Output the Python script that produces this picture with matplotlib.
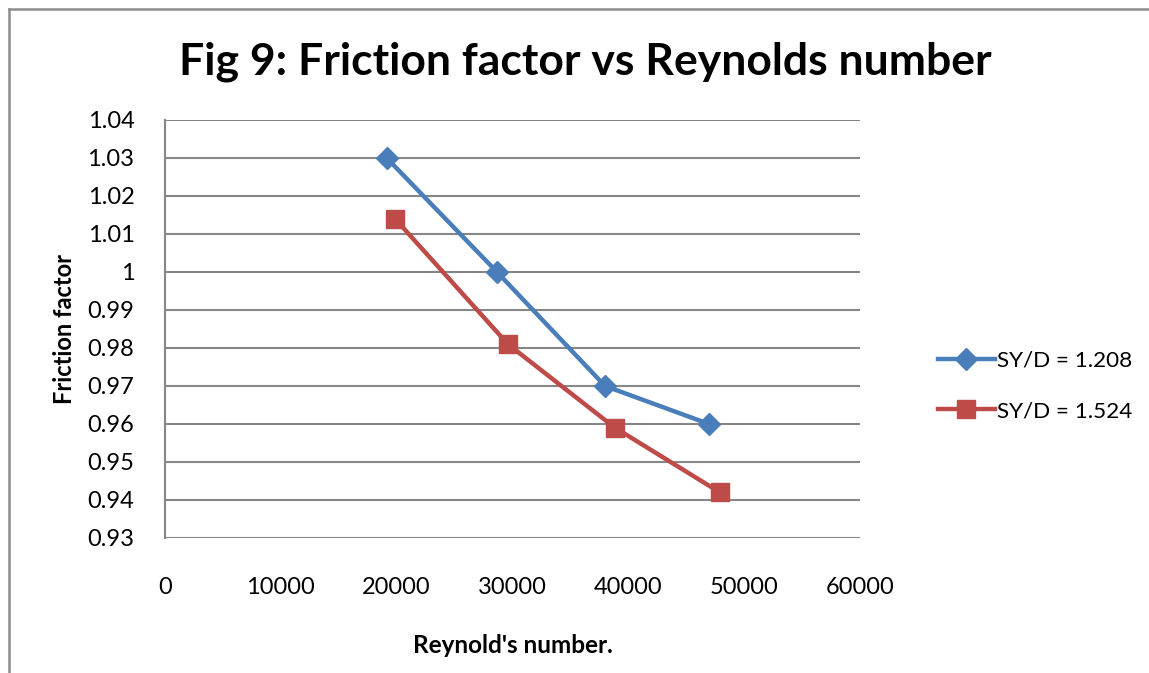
import matplotlib
matplotlib.use("Agg")
import matplotlib.pyplot as plt
from matplotlib.lines import Line2D

# Data
reynolds_a = [19140, 28660, 37990, 46960]
friction_a = [1.030, 1.000, 0.970, 0.960]
reynolds_b = [19860, 29610, 38850, 47910]
friction_b = [1.014, 0.981, 0.959, 0.942]
series_labels = ["SY/D = 1.208", "SY/D = 1.524"]
x_ticks = [0, 10000, 20000, 30000, 40000, 50000, 60000]
y_ticks = [0.93, 0.94, 0.95, 0.96, 0.97, 0.98, 0.99, 1.00, 1.01, 1.02, 1.03, 1.04]
y_tick_labels = ["0.93", "0.94", "0.95", "0.96", "0.97", "0.98", "0.99", "1",
                 "1.01", "1.02", "1.03", "1.04"]

plt.rcParams['font.family'] = ['Lato', 'DejaVu Sans']

W, H = 1149, 673
fig = plt.figure(figsize=(W / 100, H / 100), dpi=100)
fig.patch.set_facecolor("white")

# chart frame: top and left edges
frame_kw = dict(transform=fig.transFigure, color="#8c8c8c", linewidth=1.8)
fig.lines.append(Line2D([8.5 / W, 1.0], [1 - 9 / H, 1 - 9 / H], **frame_kw))
fig.lines.append(Line2D([8.5 / W, 8.5 / W], [0.0, 1 - 9 / H], **frame_kw))

ax = fig.add_axes([165 / W, 1 - 538 / H, (860 - 165) / W, (538 - 120) / H])

blue = "#4a7ebb"
red = "#be4b48"
grid = "#878787"

ax.plot(reynolds_a, friction_a, color=blue, lw=3.2, marker="D", ms=11,
        mfc=blue, mec=blue, label=series_labels[0], zorder=3)
ax.plot(reynolds_b, friction_b, color=red, lw=3.2, marker="s", ms=13,
        mfc=red, mec=red, label=series_labels[1], zorder=3)

ax.set_xlim(0, 60000)
ax.set_ylim(0.93, 1.04)
ax.set_xticks(x_ticks)
ax.set_xticklabels([str(v) for v in x_ticks])
ax.set_yticks(y_ticks)
ax.set_yticklabels(y_tick_labels)

ax.yaxis.grid(True, color=grid, lw=1.5)
ax.set_axisbelow(True)
for s in ["top", "right", "bottom"]:
    ax.spines[s].set_visible(False)
ax.spines["left"].set_color(grid)
ax.spines["left"].set_linewidth(1.5)

ax.tick_params(axis="both", length=0, labelsize=17, colors="black")
ax.tick_params(axis="y", pad=22)
ax.tick_params(axis="x", pad=28)

ax.set_xlabel("Reynold's number.", fontsize=17.5, fontweight="bold", labelpad=26)
ax.set_ylabel("Friction factor", fontsize=17, fontweight="bold", labelpad=8)

fig.text(585 / W, 1 - 62 / H, "Fig 9: Friction factor vs Reynolds number",
         ha="center", va="center", fontsize=32, fontweight="bold")

handles = [
    Line2D([], [], color=blue, lw=3.2, marker="D", ms=11, mfc=blue, mec=blue),
    Line2D([], [], color=red, lw=3.2, marker="s", ms=13, mfc=red, mec=red),
]
fig.legend(handles, series_labels, loc="center left",
           bbox_to_anchor=(918 / W, 1 - 386 / H), frameon=False,
           fontsize=16.2, handlelength=2.5, handletextpad=0.1,
           labelspacing=1.35)

fig.savefig("out.png", dpi=100, facecolor="white")
